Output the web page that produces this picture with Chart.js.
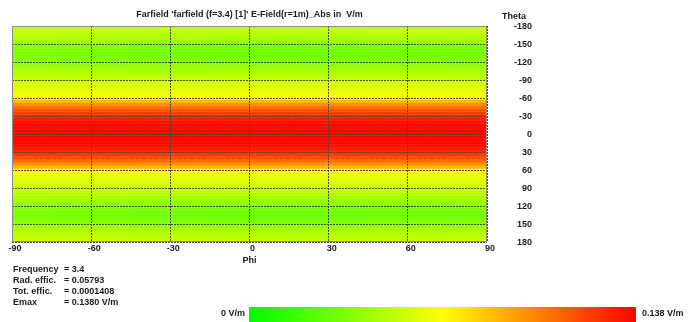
<!DOCTYPE html>
<html lang="en">
<head>
  <meta charset="UTF-8">
  <title>Farfield E-Field</title>
  <style>
    body {
      margin: 0;
      background: #fff;
      font-family: "Liberation Sans", Arial, sans-serif;
      font-weight: bold;
      font-size: 9px;
      color: #1a1a1a;
    }

    #wrap {
      position: relative;
      width: 699px;
      height: 322px;
      overflow: hidden;
    }

    canvas {
      position: absolute;
      left: 0;
      top: 0;
    }

    .txt {
      position: absolute;
      white-space: pre;
      line-height: 12px;
    }

    #colorbar {
      position: absolute;
      left: 249px;
      top: 307px;
      width: 387px;
      height: 15px;
      background: linear-gradient(to right, #00ff00 0%, #ffff00 50%, #ff0000 100%);
    }
  </style>
</head>
<body>

  <div id="wrap">
    <canvas id="myChart" width="699" height="322"></canvas>
    <div class="txt" style="left:498px; top:10px; width:28px; text-align:right;">Theta</div>
    <div class="txt" style="left:13px; top:263px;">Frequency</div>
    <div class="txt" style="left:64px; top:263px;">= 3.4</div>
    <div class="txt" style="left:13px; top:274px;">Rad. effic.</div>
    <div class="txt" style="left:64px; top:274px;">= 0.05793</div>
    <div class="txt" style="left:13px; top:285px;">Tot. effic.</div>
    <div class="txt" style="left:64px; top:285px;">= 0.0001408</div>
    <div class="txt" style="left:13px; top:296px;">Emax</div>
    <div class="txt" style="left:64px; top:296px;">= 0.1380 V/m</div>
    <div class="txt" style="left:205px; top:307px; width:40px; text-align:right;">0 V/m</div>
    <div id="colorbar"></div>
    <div class="txt" style="left:642px; top:307px;">0.138 V/m</div>
  </div>

  <script src="https://cdn.jsdelivr.net/npm/chart.js"></script>
  <script>
    // phi columns (deg) and theta rows (deg), cell centres
    const phiDeg = [-90, -60, -30, 0, 30, 60, 90];
    const thetaDeg = [
      -180, -175, -170, -165, -160, -155, -150, -145, -140, -135, -130, -125,
      -120, -115, -110, -105, -100, -95, -90, -85, -80, -75, -70, -65,
      -60, -55, -50, -45, -40, -35, -30, -25, -20, -15, -10, -5,
      0, 5, 10, 15, 20, 25, 30, 35, 40, 45, 50, 55,
      60, 65, 70, 75, 80, 85, 90, 95, 100, 105, 110, 115,
      120, 125, 130, 135, 140, 145, 150, 155, 160, 165, 170, 175, 180
    ];

    // |E| in V/m, one row per theta, one value per phi column
    const eField = [
      [0.054, 0.054, 0.053, 0.053, 0.053, 0.053, 0.054],
      [0.054, 0.054, 0.053, 0.053, 0.053, 0.053, 0.054],
      [0.053, 0.052, 0.051, 0.051, 0.051, 0.052, 0.052],
      [0.051, 0.050, 0.049, 0.048, 0.048, 0.049, 0.049],
      [0.048, 0.047, 0.046, 0.045, 0.045, 0.046, 0.046],
      [0.045, 0.044, 0.042, 0.041, 0.041, 0.042, 0.042],
      [0.041, 0.040, 0.038, 0.037, 0.037, 0.038, 0.038],
      [0.037, 0.036, 0.034, 0.033, 0.033, 0.034, 0.034],
      [0.034, 0.033, 0.031, 0.030, 0.030, 0.031, 0.031],
      [0.033, 0.032, 0.030, 0.029, 0.029, 0.030, 0.030],
      [0.034, 0.033, 0.031, 0.030, 0.030, 0.031, 0.031],
      [0.036, 0.035, 0.034, 0.033, 0.033, 0.034, 0.034],
      [0.039, 0.038, 0.037, 0.036, 0.036, 0.037, 0.037],
      [0.041, 0.040, 0.040, 0.039, 0.039, 0.039, 0.040],
      [0.044, 0.043, 0.042, 0.042, 0.042, 0.042, 0.043],
      [0.047, 0.046, 0.045, 0.045, 0.045, 0.045, 0.046],
      [0.049, 0.049, 0.048, 0.048, 0.048, 0.048, 0.049],
      [0.052, 0.052, 0.052, 0.052, 0.052, 0.052, 0.052],
      [0.055, 0.055, 0.055, 0.055, 0.055, 0.055, 0.055],
      [0.057, 0.057, 0.057, 0.057, 0.057, 0.057, 0.057],
      [0.059, 0.059, 0.059, 0.059, 0.059, 0.059, 0.059],
      [0.061, 0.061, 0.061, 0.061, 0.061, 0.061, 0.061],
      [0.064, 0.064, 0.064, 0.064, 0.064, 0.064, 0.064],
      [0.066, 0.066, 0.066, 0.066, 0.066, 0.066, 0.066],
      [0.072, 0.071, 0.071, 0.071, 0.071, 0.071, 0.071],
      [0.088, 0.088, 0.088, 0.088, 0.088, 0.088, 0.088],
      [0.099, 0.099, 0.099, 0.099, 0.099, 0.099, 0.099],
      [0.108, 0.108, 0.108, 0.108, 0.108, 0.108, 0.108],
      [0.116, 0.116, 0.116, 0.116, 0.116, 0.116, 0.116],
      [0.122, 0.122, 0.122, 0.122, 0.122, 0.122, 0.122],
      [0.127, 0.127, 0.127, 0.127, 0.127, 0.127, 0.127],
      [0.131, 0.131, 0.131, 0.131, 0.131, 0.131, 0.131],
      [0.134, 0.134, 0.134, 0.134, 0.134, 0.134, 0.134],
      [0.136, 0.136, 0.136, 0.136, 0.136, 0.136, 0.136],
      [0.137, 0.137, 0.137, 0.137, 0.137, 0.137, 0.137],
      [0.138, 0.138, 0.138, 0.138, 0.138, 0.138, 0.138],
      [0.138, 0.138, 0.138, 0.138, 0.138, 0.138, 0.138],
      [0.138, 0.138, 0.138, 0.138, 0.138, 0.138, 0.138],
      [0.137, 0.137, 0.137, 0.137, 0.137, 0.137, 0.137],
      [0.136, 0.136, 0.136, 0.136, 0.136, 0.136, 0.136],
      [0.134, 0.134, 0.134, 0.134, 0.134, 0.134, 0.134],
      [0.131, 0.131, 0.131, 0.131, 0.131, 0.131, 0.131],
      [0.127, 0.127, 0.127, 0.127, 0.127, 0.127, 0.127],
      [0.122, 0.122, 0.122, 0.122, 0.122, 0.122, 0.122],
      [0.116, 0.116, 0.116, 0.116, 0.116, 0.116, 0.116],
      [0.108, 0.108, 0.108, 0.108, 0.108, 0.108, 0.108],
      [0.099, 0.099, 0.099, 0.099, 0.099, 0.099, 0.099],
      [0.088, 0.088, 0.088, 0.088, 0.088, 0.088, 0.088],
      [0.072, 0.071, 0.071, 0.071, 0.071, 0.071, 0.071],
      [0.066, 0.066, 0.066, 0.066, 0.066, 0.066, 0.066],
      [0.064, 0.064, 0.064, 0.064, 0.064, 0.064, 0.064],
      [0.061, 0.061, 0.061, 0.061, 0.061, 0.061, 0.061],
      [0.059, 0.059, 0.059, 0.059, 0.059, 0.059, 0.059],
      [0.057, 0.057, 0.057, 0.057, 0.057, 0.057, 0.057],
      [0.055, 0.055, 0.055, 0.055, 0.055, 0.055, 0.055],
      [0.052, 0.052, 0.052, 0.052, 0.052, 0.052, 0.052],
      [0.049, 0.049, 0.048, 0.048, 0.048, 0.048, 0.049],
      [0.047, 0.046, 0.045, 0.045, 0.045, 0.045, 0.046],
      [0.044, 0.043, 0.042, 0.042, 0.042, 0.042, 0.043],
      [0.041, 0.040, 0.040, 0.039, 0.039, 0.039, 0.040],
      [0.039, 0.038, 0.037, 0.036, 0.036, 0.037, 0.037],
      [0.036, 0.035, 0.034, 0.033, 0.033, 0.034, 0.034],
      [0.034, 0.033, 0.031, 0.030, 0.030, 0.031, 0.031],
      [0.033, 0.032, 0.030, 0.029, 0.029, 0.030, 0.030],
      [0.034, 0.033, 0.031, 0.030, 0.030, 0.031, 0.031],
      [0.037, 0.036, 0.034, 0.033, 0.033, 0.034, 0.034],
      [0.041, 0.040, 0.038, 0.037, 0.037, 0.038, 0.038],
      [0.045, 0.044, 0.042, 0.041, 0.041, 0.042, 0.042],
      [0.048, 0.047, 0.046, 0.045, 0.045, 0.046, 0.046],
      [0.050, 0.049, 0.048, 0.047, 0.047, 0.048, 0.048],
      [0.052, 0.051, 0.050, 0.050, 0.050, 0.051, 0.051],
      [0.053, 0.053, 0.052, 0.052, 0.052, 0.052, 0.053],
      [0.053, 0.053, 0.052, 0.052, 0.052, 0.052, 0.053]
    ];

    const eMax = 0.138;
    const xTicks = [-90, 90, 30];   // min, max, step
    const yTicks = [-180, 180, 30];
    const cellHalf = 2.5;

    // green -> yellow -> red, like the colour bar
    function colorFor(v) {
      let t = Math.max(0, Math.min(1, v / eMax));
      if (t < 0.5) {
        return 'rgb(' + Math.round(510 * t) + ',255,0)';
      }
      return 'rgb(255,' + Math.round(510 * (1 - t)) + ',0)';
    }

    const datasets = thetaDeg.map((theta, i) => ({
      data: phiDeg.map(phi => ({ x: phi, y: [theta - cellHalf, theta + cellHalf] })),
      backgroundColor: eField[i].map(colorFor),
      borderWidth: 0,
      grouped: false,
      barPercentage: 1,
      categoryPercentage: 1
    }));

    const framePlugin = {
      id: 'frame',
      afterDraw(chart) {
        const a = chart.chartArea;
        const ctx = chart.ctx;
        ctx.save();
        ctx.strokeStyle = '#8c8c8c';
        ctx.lineWidth = 1;
        ctx.strokeRect(a.left + 0.5, a.top + 0.5, a.right - a.left - 1, a.bottom - a.top - 1);
        ctx.restore();
      }
    };

    Chart.defaults.font.family = '"Liberation Sans", Arial, sans-serif';
    Chart.defaults.font.size = 9;
    Chart.defaults.font.weight = 'bold';
    Chart.defaults.color = '#1a1a1a';

    const ctx = document.getElementById('myChart').getContext('2d');
    const myChart = new Chart(ctx, {
      type: 'bar',
      data: { datasets: datasets },
      plugins: [framePlugin],
      options: {
        responsive: false,
        animation: false,
        devicePixelRatio: 1,
        layout: { padding: { left: 12, right: 167, top: 0, bottom: 56 } },
        plugins: {
          legend: { display: false },
          tooltip: { enabled: false },
          title: {
            display: true,
            fullSize: false,
            text: "Farfield 'farfield (f=3.4) [1]' E-Field(r=1m)_Abs in  V/m",
            font: { size: 9, weight: 'bold', lineHeight: 1.2 },
            color: '#1a1a1a',
            padding: { top: 9.6, bottom: 5.6 }
          }
        },
        scales: {
          x: {
            type: 'linear',
            min: xTicks[0],
            max: xTicks[1],
            offset: false,
            afterFit(axis) { axis.height = 24; },
            ticks: { stepSize: xTicks[2], padding: 1, maxRotation: 0, labelOffset: 3 },
            grid: { offset: false, drawTicks: false, color: '#4a4a3a', lineWidth: 1, z: 1 },
            border: { display: false, dash: [2, 1] },
            title: { display: true, text: 'Phi', padding: { top: 0, bottom: 0 }, font: { size: 9, weight: 'bold', lineHeight: 1.2 } }
          },
          y: {
            type: 'linear',
            position: 'right',
            reverse: true,
            min: yTicks[0],
            max: yTicks[1],
            afterFit(axis) { axis.width = 45; },
            ticks: { stepSize: yTicks[2], padding: 17, crossAlign: 'far', labelOffset: 1 },
            grid: { drawTicks: false, color: '#4a4a3a', lineWidth: 1, z: 1 },
            border: { display: false, dash: [2, 1] }
          }
        }
      }
    });
  </script>
</body>
</html>
